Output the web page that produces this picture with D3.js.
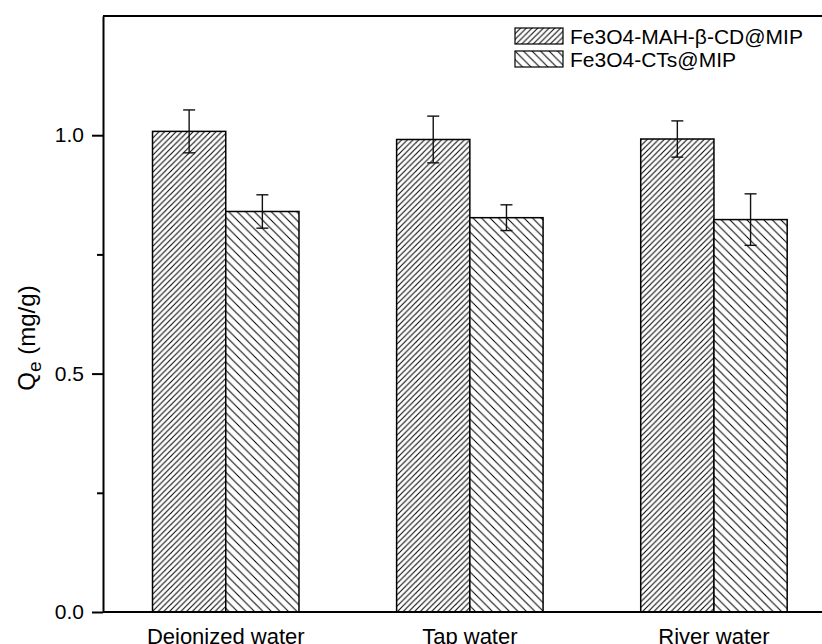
<!DOCTYPE html>
<html>
<head>
<meta charset="utf-8">
<script src="https://cdn.jsdelivr.net/npm/d3@7"></script>
<style>
  html, body { margin: 0; padding: 0; background: #fff; }
  svg { display: block; font-family: "Liberation Sans", Arial, sans-serif; }
</style>
</head>
<body>
<svg id="chart" width="822" height="644"></svg>
<script>
// Adsorption capacity in three water matrices
const categories = ["Deionized water", "Tap water", "River water"];
const seriesNames = ["Fe3O4-MAH-β-CD@MIP", "Fe3O4-CTs@MIP"];
const cdMipValues = [1.008, 0.991, 0.992];
const cdMipErrors = [0.045, 0.049, 0.038];
const ctsMipValues = [0.840, 0.827, 0.823];
const ctsMipErrors = [0.035, 0.027, 0.054];
const yMajorTicks = [0.0, 0.5, 1.0];
const yMinorTicks = [0.25, 0.75];

const svg = d3.select("#chart");
const W = 822, H = 644;
const plot = { left: 103, top: 16, bottom: 612, right: 836 };

const y = d3.scaleLinear().domain([0, 1.25]).range([plot.bottom, plot.top]);
const x = d3.scaleBand().domain(categories)
  .range([plot.left + 0.7, plot.right])
  .paddingInner(0.4).paddingOuter(0.2);
const xs = d3.scaleBand().domain(seriesNames).range([0, x.bandwidth()]);

// hatch fills
const defs = svg.append("defs");
function hatch(id, size, forward) {
  const p = defs.append("pattern").attr("id", id)
    .attr("patternUnits", "userSpaceOnUse")
    .attr("width", size).attr("height", size);
  p.append("rect").attr("width", size).attr("height", size).attr("fill", "#fff");
  const segs = forward
    ? [[0, size, size, 0], [-size, size, size, -size], [0, 2 * size, 2 * size, 0]]
    : [[0, 0, size, size], [-size, 0, size, 2 * size], [0, -size, 2 * size, size]];
  segs.forEach(s => p.append("line")
    .attr("x1", s[0]).attr("y1", s[1]).attr("x2", s[2]).attr("y2", s[3])
    .attr("stroke", "#000").attr("stroke-width", 1));
}
hatch("hatchFwd", 5.7, true);
hatch("hatchBack", 8.5, false);
const fills = ["url(#hatchFwd)", "url(#hatchBack)"];

const series = [
  { name: seriesNames[0], values: cdMipValues, errors: cdMipErrors, fill: fills[0] },
  { name: seriesNames[1], values: ctsMipValues, errors: ctsMipErrors, fill: fills[1] }
];

// bars
const gBars = svg.append("g");
series.forEach(s => {
  categories.forEach((c, i) => {
    const x0 = x(c) + xs(s.name);
    gBars.append("rect")
      .attr("x", x0).attr("y", y(s.values[i]))
      .attr("width", xs.bandwidth())
      .attr("height", y(0) - y(s.values[i]))
      .attr("fill", s.fill)
      .attr("stroke", "#000").attr("stroke-width", 1.5);
  });
});

// error bars
const gErr = svg.append("g").attr("stroke", "#111").attr("stroke-width", 1.4);
series.forEach(s => {
  categories.forEach((c, i) => {
    const cx = x(c) + xs(s.name) + xs.bandwidth() / 2;
    const hi = y(s.values[i] + s.errors[i]);
    const lo = y(s.values[i] - s.errors[i]);
    gErr.append("line").attr("x1", cx).attr("x2", cx).attr("y1", hi).attr("y2", lo);
    gErr.append("line").attr("x1", cx - 6).attr("x2", cx + 6).attr("y1", hi).attr("y2", hi);
    gErr.append("line").attr("x1", cx - 6).attr("x2", cx + 6).attr("y1", lo).attr("y2", lo);
  });
});

// frame lines
const gFrame = svg.append("g").attr("stroke", "#000").attr("stroke-width", 2);
gFrame.append("line").attr("x1", plot.left).attr("x2", W).attr("y1", plot.top).attr("y2", plot.top);
gFrame.append("line").attr("x1", plot.left).attr("x2", W).attr("y1", plot.bottom).attr("y2", plot.bottom);

// y axis
const yAxis = d3.axisLeft(y).tickValues(yMajorTicks)
  .tickFormat(d3.format(".1f")).tickSizeInner(11).tickSizeOuter(0).tickPadding(8);
const gy = svg.append("g").attr("transform", `translate(${plot.left},0)`).call(yAxis);
gy.select(".domain").attr("stroke-width", 2);
gy.selectAll(".tick line").attr("stroke-width", 2);
gy.selectAll(".tick text").attr("font-size", 21).attr("fill", "#000")
  .attr("font-family", "Liberation Sans, Arial, sans-serif");
const yMinor = d3.axisLeft(y).tickValues(yMinorTicks).tickSize(6).tickFormat("");
const gym = svg.append("g").attr("transform", `translate(${plot.left},0)`).call(yMinor);
gym.select(".domain").remove();
gym.selectAll(".tick line").attr("stroke-width", 2);

// x category labels
const xAxis = d3.axisBottom(x).tickSize(0).tickPadding(16);
const gx = svg.append("g").attr("transform", `translate(0,${plot.bottom})`).call(xAxis);
gx.select(".domain").remove();
gx.selectAll(".tick text").attr("font-size", 22).attr("fill", "#000")
  .attr("font-family", "Liberation Sans, Arial, sans-serif");

// y title
const yt = svg.append("text")
  .attr("transform", "translate(35,338) rotate(-90)")
  .attr("text-anchor", "middle").attr("font-size", 24).attr("fill", "#000");
yt.append("tspan").text("Q");
yt.append("tspan").attr("font-size", 19).attr("dy", 6).text("e");
yt.append("tspan").attr("dy", -6).text(" (mg/g)");

// legend
const leg = svg.append("g").attr("transform", "translate(515,28)");
series.forEach((s, i) => {
  const row = leg.append("g").attr("transform", `translate(0,${i * 23})`);
  row.append("rect").attr("width", 48).attr("height", 16)
    .attr("fill", s.fill).attr("stroke", "#000").attr("stroke-width", 1.2);
  row.append("text").attr("x", 55).attr("y", 16)
    .attr("font-size", 21).attr("fill", "#000").text(s.name);
});
</script>
</body>
</html>
